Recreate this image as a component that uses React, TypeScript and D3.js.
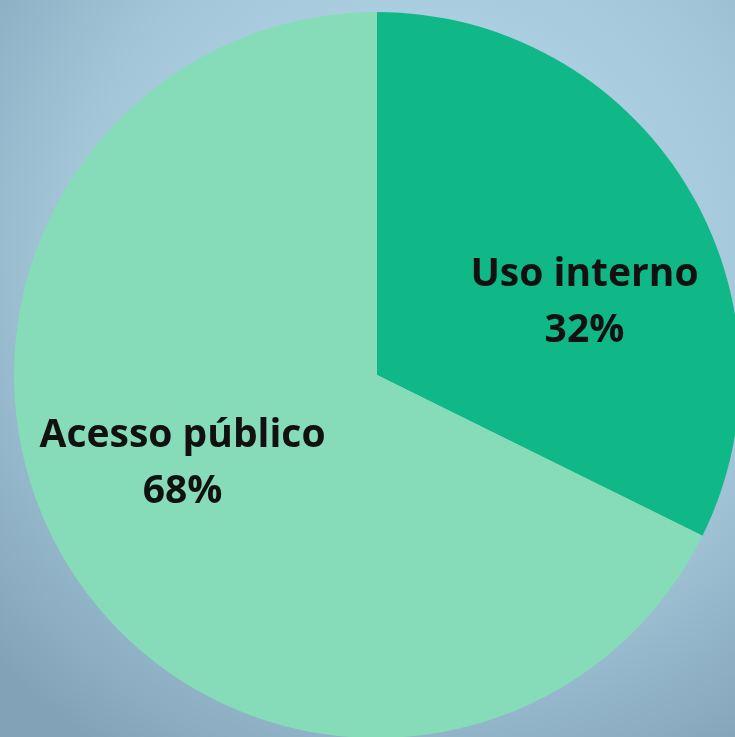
import { useEffect, useRef } from 'react';
import * as d3 from 'd3';

// Data
const categories = ['Uso interno', 'Acesso público'];
const values = [32.3, 67.7];
const sliceColors = ['#10b887', '#86dbb8'];
// label nudges relative to the arc centroid (Excel "best fit" placement)
const labelNudge: [number, number][] = [
  [24, 25],
  [-11, -42],
];

const WIDTH = 735;
const HEIGHT = 737;

export default function App() {
  const svgRef = useRef<SVGSVGElement>(null);

  useEffect(() => {
    if (!svgRef.current) return;
    const svg = d3.select(svgRef.current);
    svg.selectAll('*').remove();

    // Background gradient
    const defs = svg.append('defs');
    const grad = defs
      .append('radialGradient')
      .attr('id', 'bg')
      .attr('cx', '58%')
      .attr('cy', '35%')
      .attr('r', '80%');
    grad.append('stop').attr('offset', '0%').attr('stop-color', '#b9deee');
    grad.append('stop').attr('offset', '60%').attr('stop-color', '#a3c7d9');
    grad.append('stop').attr('offset', '100%').attr('stop-color', '#82a2b8');

    svg
      .append('rect')
      .attr('width', WIDTH)
      .attr('height', HEIGHT)
      .attr('fill', 'url(#bg)');

    const cx = 377;
    const cy = 375;
    const radius = 363;

    const pie = d3
      .pie<number>()
      .sort(null)
      .value((d) => d);
    const arcs = pie(values);

    const arc = d3.arc<d3.PieArcDatum<number>>().innerRadius(0).outerRadius(radius);
    const labelArc = d3
      .arc<d3.PieArcDatum<number>>()
      .innerRadius(216)
      .outerRadius(216);

    const g = svg.append('g').attr('transform', `translate(${cx},${cy})`);

    g.selectAll('path')
      .data(arcs)
      .join('path')
      .attr('d', arc)
      .attr('fill', (_, i) => sliceColors[i]);

    const labels = g
      .selectAll('text')
      .data(arcs)
      .join('text')
      .attr('transform', (d, i) => {
        const [x, y] = labelArc.centroid(d);
        return `translate(${x + labelNudge[i][0]},${y + labelNudge[i][1]})`;
      })
      .attr('text-anchor', 'middle')
      .attr('font-family', '"Open Sans", Lato, sans-serif')
      .attr('font-weight', 'bold')
      .attr('font-size', 39)
      .attr('fill', '#111');

    labels
      .append('tspan')
      .attr('x', 0)
      .attr('y', 0)
      .text((_, i) => categories[i]);
    labels
      .append('tspan')
      .attr('x', 0)
      .attr('y', 56)
      .text((d) => `${Math.round(d.data)}%`);
  }, []);

  return (
    <div style={{ position: 'fixed', left: 0, top: 0 }}>
      <svg ref={svgRef} width={WIDTH} height={HEIGHT} style={{ display: 'block' }} />
    </div>
  );
}
